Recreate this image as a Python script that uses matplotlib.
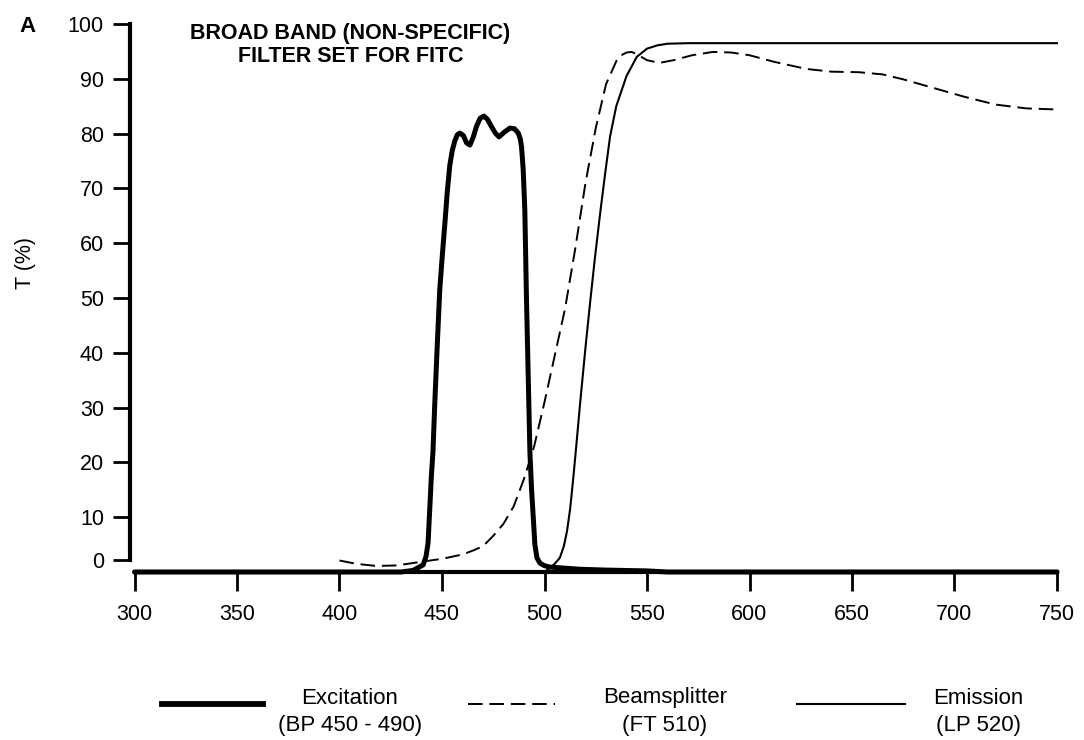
import matplotlib
matplotlib.use("Agg")
import matplotlib.pyplot as plt
from matplotlib.lines import Line2D

plt.rcParams['font.family'] = ['Liberation Sans', 'DejaVu Sans']

# transmission curves (wavelength nm, T %)
exc_wl = [300, 430, 436, 440.8, 442.2, 443.2, 444, 444.8, 445.6, 446.5, 447.7, 448.9, 450.2,
          451.4, 452.6, 453.8, 455, 456.2, 457.5, 458.7, 460.5, 462, 463.6, 465.2, 466.8,
          468.6, 470.4, 472.2, 474.1, 476, 477.8, 480.5, 483.1, 485.3, 487.2, 488.2, 488.8,
          489.6, 490.4, 491.2, 492.1, 492.9, 493.7, 494.5, 495.3, 496.3, 497.8, 500, 502.6,
          510, 517.3, 530, 550, 560, 750]
exc_t = [0, 0, 0.3, 1.3, 2.8, 5.3, 11.3, 17.4, 22, 31, 41.5, 51.5, 58,
         63.6, 69.5, 74.2, 76.9, 78.6, 79.8, 80.1, 79.6, 78.3, 77.9, 79.3, 81.3,
         82.8, 83.2, 82.6, 81.3, 80.1, 79.4, 80.3, 81, 80.9, 80.1, 79, 77.6,
         73.5, 66, 50, 35, 21.7, 15, 10.1, 5, 2.6, 1.6, 1.15, 0.9,
         0.7, 0.5, 0.35, 0.2, 0, 0]

bs_wl = [400, 408, 418, 428, 440.6, 450, 460, 465, 470, 475, 480, 485, 490, 495, 500,
         505, 510, 515, 520, 525, 530, 535, 537.5, 540, 542.5, 545, 550, 556, 563,
         572, 582, 591, 600, 612, 627.7, 640, 653.5, 665, 675, 690, 705, 720, 735, 750]
bs_t = [2.1, 1.5, 1.1, 1.2, 1.9, 2.4, 3.2, 3.9, 4.7, 6.6, 8.8, 12.0, 17.0, 23.0, 31,
        39.5, 48, 59, 71, 81, 89, 93.2, 94.3, 94.8, 94.9, 94.5, 93.4, 92.9, 93.4,
        94.3, 94.9, 94.8, 94.3, 93.1, 91.8, 91.3, 91.2, 90.8, 89.9, 88.3, 86.7, 85.3, 84.6, 84.4]

em_wl = [300, 500, 503.4, 505, 507.5, 509.5, 511, 512.5, 514, 515.5, 517.3, 520, 522.2,
         524.5, 527, 529.5, 532, 535, 540, 545, 550, 555, 560, 570, 750]
em_t = [0, 0, 1.0, 1.5, 2.6, 4.8, 7.5, 11.5, 17, 23, 30.5, 41, 49,
        57, 65, 72.5, 79.5, 85, 90.5, 94, 95.5, 96.1, 96.4, 96.5, 96.5]

x_ticks = [300, 350, 400, 450, 500, 550, 600, 650, 700, 750]
y_tick_pos = [2.2, 10, 20, 30, 40, 50, 60, 70, 80, 90, 100]
y_tick_labels = ['0', '10', '20', '30', '40', '50', '60', '70', '80', '90', '100']

W, H = 1084, 740
fig = plt.figure(figsize=(W / 100, H / 100), dpi=100)
ax = fig.add_axes([134.5 / W, 1 - 572 / H, 922.5 / W, 548 / H])

ax.plot(exc_wl, exc_t, color='black', lw=3.6, solid_capstyle='round', solid_joinstyle='round',
        clip_on=False, zorder=4)
ax.plot(bs_wl, bs_t, color='black', lw=1.4, dashes=(7.5, 3.5), clip_on=False, zorder=3)
ax.plot(em_wl, em_t, color='black', lw=1.5, solid_joinstyle='round', clip_on=False, zorder=3)

ax.set_xlim(300, 750)
ax.set_ylim(0, 100)
for s in ['top', 'right']:
    ax.spines[s].set_visible(False)
ax.spines['left'].set_linewidth(3)
ax.spines['left'].set_position(('outward', 3))
ax.spines['left'].set_bounds(2.2, 100)
ax.spines['bottom'].set_linewidth(3)
ax.spines['bottom'].set_bounds(300, 750)

ax.set_xticks(x_ticks)
ax.set_yticks(y_tick_pos)
ax.set_yticklabels(y_tick_labels)
ax.tick_params(axis='y', length=12, width=2, pad=7, labelsize=15.5)
ax.tick_params(axis='x', length=14, width=2, pad=9, labelsize=15.5)


def px(x, y):
    return x / W, 1 - y / H


fig.text(*px(27, 26), 'A', fontsize=16, fontweight='bold', ha='center', va='center')
fig.text(*px(350, 34), 'BROAD BAND (NON-SPECIFIC)', fontsize=15.5, fontweight='bold',
         ha='center', va='center')
fig.text(*px(351, 56), 'FILTER SET FOR FITC', fontsize=15.5, fontweight='bold',
         ha='center', va='center')
fig.text(*px(25, 263), 'T (%)', fontsize=15.5, rotation=90, ha='center', va='center')

# legend drawn by hand underneath the axis
ly = 1 - 704 / H
fig.add_artist(Line2D([162 / W, 263 / W], [ly, ly], color='black', lw=4.2, transform=fig.transFigure))
fig.add_artist(Line2D([468 / W, 555 / W], [ly, ly], color='black', lw=1.4, dashes=(7.5, 3.5),
                      transform=fig.transFigure))
fig.add_artist(Line2D([797 / W, 905 / W], [ly, ly], color='black', lw=1.5, transform=fig.transFigure))

legend_items = [(350, 'Excitation', '(BP 450 - 490)'),
                (665, 'Beamsplitter', '(FT 510)'),
                (978, 'Emission', '(LP 520)')]
for cx, top, bottom in legend_items:
    fig.text(*px(cx, 698), top, fontsize=16, ha='center', va='center')
    fig.text(*px(cx, 725), bottom, fontsize=16, ha='center', va='center')

fig.savefig('out.png', dpi=100)
